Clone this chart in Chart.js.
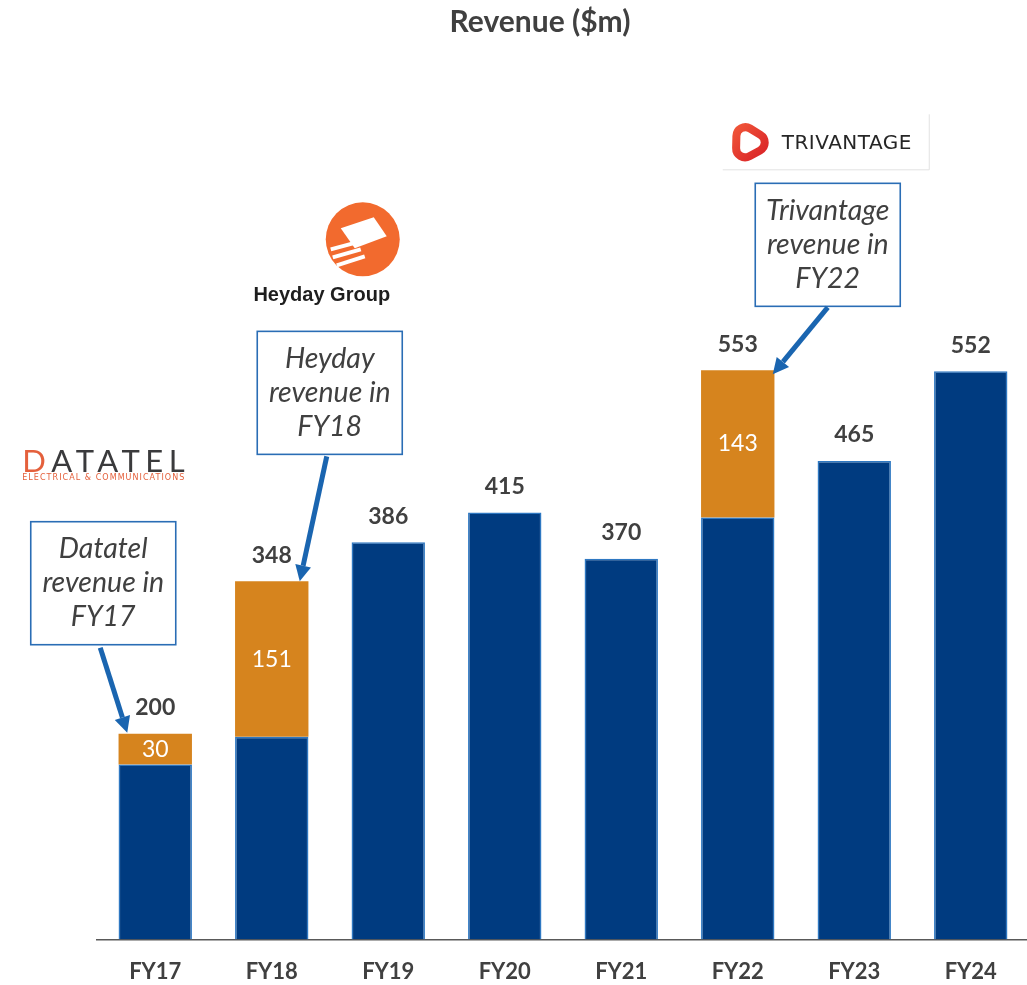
<!DOCTYPE html>
<html>
<head>
<meta charset="utf-8">
<title>Revenue ($m)</title>
<script src="https://cdn.jsdelivr.net/npm/chart.js@4"></script>
<style>
    html, body { margin: 0; padding: 0; background: #fff; overflow: hidden; }
    #wrap { width: 1029px; height: 996px; position: relative; }
</style>
</head>
<body>
<div id="wrap"><canvas id="revenueChart"></canvas></div>
<script>
// Chart data
const years = ['FY17', 'FY18', 'FY19', 'FY20', 'FY21', 'FY22', 'FY23', 'FY24'];
const organicRevenue = [170, 197, 386, 415, 370, 410, 465, 552];
const acquiredRevenue = [30, 151, null, null, null, 143, null, null];
const totalRevenue = organicRevenue.map((v, i) => v + (acquiredRevenue[i] || 0));

const BLUE = '#003b80';
const ORANGE = '#d6841e';
const TEXT = '#404040';
const FONT = 'Lato, "Open Sans", sans-serif';

// Callouts: placed relative to the top of the bar they point at
const callouts = [
    { index: 0, lines: ['Datatel', 'revenue in', 'FY17'], dx: -52, dy: -212, from: [-55, -86], to: [-28, -1], logo: 'datatel' },
    { index: 1, lines: ['Heyday', 'revenue in', 'FY18'], dx: 58, dy: -250, from: [55, -125], to: [28, 0], logo: 'heyday' },
    { index: 5, lines: ['Trivantage', 'revenue in', 'FY22'], dx: 90, dy: -187, from: [90, -63], to: [35, 4], logo: 'trivantage' }
];

function drawArrow(ctx, x1, y1, x2, y2) {
    const ang = Math.atan2(y2 - y1, x2 - x1);
    const head = 16;
    const bx = x2 - Math.cos(ang) * head;
    const by = y2 - Math.sin(ang) * head;
    ctx.save();
    ctx.strokeStyle = '#1a65b0';
    ctx.fillStyle = '#1a65b0';
    ctx.lineWidth = 5;
    ctx.beginPath();
    ctx.moveTo(x1, y1);
    ctx.lineTo(bx, by);
    ctx.stroke();
    ctx.beginPath();
    ctx.moveTo(x2, y2);
    ctx.lineTo(bx + Math.cos(ang + Math.PI / 2) * 8, by + Math.sin(ang + Math.PI / 2) * 8);
    ctx.lineTo(bx + Math.cos(ang - Math.PI / 2) * 8, by + Math.sin(ang - Math.PI / 2) * 8);
    ctx.closePath();
    ctx.fill();
    ctx.restore();
}

function drawLogo(ctx, kind, cx, top) {
    ctx.save();
    if (kind === 'datatel') {
        ctx.textBaseline = 'alphabetic';
        ctx.textAlign = 'left';
        ctx.font = '31px Lato, sans-serif';
        ctx.letterSpacing = '5.5px';
        const x0 = cx - 81;
        ctx.fillStyle = '#e4603c';
        ctx.fillText('D', x0, top + 24);
        const dW = ctx.measureText('D').width;
        ctx.fillStyle = '#3a3a3c';
        ctx.fillText('ATATEL', x0 + dW, top + 24);
        ctx.letterSpacing = '1.05px';
        ctx.font = '8px "DejaVu Sans", sans-serif';
        ctx.fillStyle = '#e4603c';
        ctx.fillText('ELECTRICAL & COMMUNICATIONS', x0, top + 32);
    } else if (kind === 'heyday') {
        const ox = cx + 41, oy = top + 36;
        ctx.fillStyle = '#f26a2e';
        ctx.beginPath();
        ctx.arc(ox, oy, 37, 0, Math.PI * 2);
        ctx.fill();
        ctx.fillStyle = '#fff';
        ctx.beginPath();
        ctx.moveTo(ox - 22, oy - 11);
        ctx.lineTo(ox + 11, oy - 22);
        ctx.lineTo(ox + 24, oy - 3);
        ctx.lineTo(ox - 8, oy + 9);
        ctx.closePath();
        ctx.fill();
        ctx.lineWidth = 4;
        ctx.strokeStyle = '#fff';
        [[-32, 10, -6, 3], [-30, 18, -2, 10], [-26, 26, 2, 17]].forEach(s => {
            ctx.beginPath();
            ctx.moveTo(ox + s[0], oy + s[1]);
            ctx.lineTo(ox + s[2], oy + s[3]);
            ctx.stroke();
        });
        ctx.fillStyle = '#1e1e1e';
        ctx.font = 'bold 20px "Liberation Sans", Arial, sans-serif';
        ctx.textAlign = 'center';
        ctx.textBaseline = 'middle';
        ctx.fillText('Heyday Group', cx, top + 92);
    } else if (kind === 'trivantage') {
        const left = cx - 104;
        ctx.fillStyle = '#fff';
        ctx.fillRect(left, top, 206, 55);
        ctx.strokeStyle = '#e2e2e2';
        ctx.lineWidth = 1;
        ctx.beginPath();
        ctx.moveTo(left, top + 55.5);
        ctx.lineTo(left + 206.5, top + 55.5);
        ctx.lineTo(left + 206.5, top);
        ctx.stroke();
        // rounded triangular ring
        const rx = left + 26, ry = top + 28;
        const pts = [0, 1, 2].map(k => {
            const a = -Math.PI / 2 + k * 2 * Math.PI / 3 - 0.5;
            return [rx + Math.cos(a) * 25, ry + Math.sin(a) * 25];
        });
        const mid = (p, q) => [(p[0] + q[0]) / 2, (p[1] + q[1]) / 2];
        const grad = ctx.createLinearGradient(rx - 18, ry - 18, rx + 18, ry + 18);
        grad.addColorStop(0, '#f25a3a');
        grad.addColorStop(1, '#d81f26');
        ctx.strokeStyle = grad;
        ctx.lineWidth = 8;
        ctx.beginPath();
        const m0 = mid(pts[2], pts[0]);
        ctx.moveTo(m0[0], m0[1]);
        for (let k = 0; k < 3; k++) {
            const p = pts[k], n = mid(pts[k], pts[(k + 1) % 3]);
            ctx.arcTo(p[0], p[1], n[0], n[1], 9);
        }
        ctx.closePath();
        ctx.stroke();
        ctx.fillStyle = '#262626';
        ctx.font = '20px "DejaVu Sans", sans-serif';
        ctx.letterSpacing = '0.5px';
        ctx.textAlign = 'left';
        ctx.textBaseline = 'alphabetic';
        ctx.fillText('TRIVANTAGE', left + 59, top + 35);
    }
    ctx.restore();
}

// Labels, title, callouts and logos
const overlayPlugin = {
    id: 'overlay',
    afterDraw(chart) {
        const ctx = chart.ctx;
        const metaBase = chart.getDatasetMeta(0);
        const metaAcq = chart.getDatasetMeta(1);
        const yScale = chart.scales.y;

        ctx.save();
        ctx.textAlign = 'center';
        ctx.textBaseline = 'middle';

        // title
        ctx.fillStyle = TEXT;
        ctx.font = 'bold 30px ' + FONT;
        ctx.fillText('Revenue ($m)', 540, 22);

        // totals above each bar
        ctx.font = 'bold 23px ' + FONT;
        totalRevenue.forEach((t, i) => {
            const x = metaBase.data[i].x;
            ctx.fillText(String(t), x, yScale.getPixelForValue(t) - 26);
        });

        // acquired segment values
        ctx.fillStyle = '#fff';
        ctx.font = '23px ' + FONT;
        acquiredRevenue.forEach((v, i) => {
            if (!v) return;
            const bar = metaAcq.data[i];
            ctx.fillText(String(v), bar.x, (bar.y + bar.base) / 2);
        });
        ctx.restore();

        callouts.forEach(c => {
            const bx = metaBase.data[c.index].x;
            const by = yScale.getPixelForValue(totalRevenue[c.index]);
            const w = 145, h = 123;
            const left = bx + c.dx - w / 2;
            const top = by + c.dy;

            ctx.save();
            ctx.fillStyle = '#fff';
            ctx.fillRect(left, top, w, h);
            ctx.strokeStyle = '#2a6db5';
            ctx.lineWidth = 1.6;
            ctx.strokeRect(left, top, w, h);
            ctx.fillStyle = TEXT;
            ctx.font = 'italic 28.5px ' + FONT;
            ctx.textAlign = 'center';
            ctx.textBaseline = 'middle';
            c.lines.forEach((line, k) => {
                ctx.fillText(line, left + w / 2, top + 27 + k * 34);
            });
            ctx.restore();

            drawArrow(ctx, bx + c.from[0], by + c.from[1], bx + c.to[0], by + c.to[1]);

            if (c.logo === 'datatel') drawLogo(ctx, 'datatel', bx + c.dx, top - 74);
            if (c.logo === 'heyday') drawLogo(ctx, 'heyday', bx + c.dx - 8, top - 128);
            if (c.logo === 'trivantage') drawLogo(ctx, 'trivantage', bx + c.dx - 1, top - 69);
        });
    }
};

const ctx = document.getElementById('revenueChart').getContext('2d');
new Chart(ctx, {
    type: 'bar',
    data: {
        labels: years,
        datasets: [{
            label: 'Organic',
            data: organicRevenue,
            backgroundColor: BLUE,
            borderColor: '#2e78c2',
            borderWidth: 1.5,
            barPercentage: 0.63,
            categoryPercentage: 1
        }, {
            label: 'Acquired',
            data: acquiredRevenue,
            backgroundColor: ORANGE,
            borderWidth: 0,
            barPercentage: 0.63,
            categoryPercentage: 1
        }]
    },
    options: {
        responsive: true,
        maintainAspectRatio: false,
        animation: false,
        layout: {
            padding: { top: 219, left: 97, right: 0, bottom: 0 }
        },
        plugins: {
            legend: { display: false },
            tooltip: { enabled: false }
        },
        scales: {
            x: {
                stacked: true,
                grid: { display: false },
                border: { display: true, color: '#595959', width: 1.5 },
                ticks: {
                    color: TEXT,
                    padding: 11,
                    font: { family: FONT, size: 22, weight: 'bold' }
                }
            },
            y: {
                stacked: true,
                display: false,
                min: 0,
                max: 700
            }
        }
    },
    plugins: [overlayPlugin]
});
</script>
</body>
</html>
